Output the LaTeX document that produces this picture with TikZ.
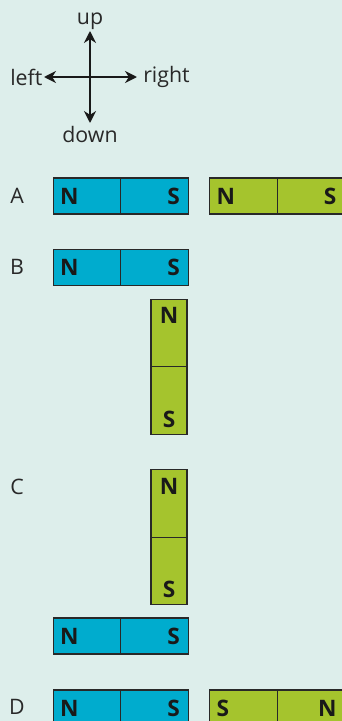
\documentclass[tikz,border=0pt]{standalone}
\usepackage{fontspec}
\setmainfont{Open Sans}
\usetikzlibrary{arrows.meta,positioning}
\definecolor{bg}{RGB}{221,238,235}
\definecolor{mblue}{RGB}{0,172,206}
\definecolor{mgreen}{RGB}{165,196,45}
\definecolor{ink}{RGB}{40,40,40}
\tikzset{
    hhalf/.style={rectangle, draw=ink, line width=0.9pt, minimum width=50.6pt, minimum height=27pt, inner sep=0pt, outer sep=0pt},
    vhalf/.style={rectangle, draw=ink, line width=0.9pt, minimum width=27pt, minimum height=50.6pt, inner sep=0pt, outer sep=0pt},
    pole/.style={font=\fontsize{17}{19}\selectfont\bfseries, text=black!90, inner sep=0pt},
    row/.style={font=\fontsize{16}{18}\selectfont, text=ink, inner sep=0pt},
    dir/.style={font=\fontsize{16}{18}\selectfont, text=ink, inner sep=0pt},
    arm/.style={-{Stealth[length=9pt,width=9pt]}, line width=1.4pt, draw=black!90}
}

\begin{document}
\begin{tikzpicture}[x=0.75pt, y=-0.75pt]
    \useasboundingbox (0,0) rectangle (342,721);
    \clip (0,0) rectangle (342,721);
    \fill[bg] (0,0) rectangle (342,721);

    % Compass
    \coordinate (ctr) at (90,77);
    \coordinate (tipU) at (90,31);
    \coordinate (tipD) at (90,123);
    \coordinate (tipL) at (44,77);
    \coordinate (tipR) at (137,77);
    \node[dir, above=1pt of tipU] (up) {up};
    \node[dir, below=2pt of tipD] (down) {down};
    \node[dir, left=1pt of tipL] (left) {left};
    \node[dir, right=4.5pt of tipR] (right) {right};
    \draw[arm] (ctr) -- (tipU);
    \draw[arm] (ctr) -- (tipD);
    \draw[arm] (ctr) -- (tipL);
    \draw[arm] (ctr) -- (tipR);

    % Row labels
    \node[row] (labA) at (17,196) {A};
    \node[row] (labB) at (17,267) {B};
    \node[row] (labC) at (17,487) {C};
    \node[row] (labD) at (17,707) {D};

    % A
    \node[hhalf, fill=mblue] (A1L) at (87,196) {};
    \node[hhalf, fill=mblue, right=0pt of A1L] (A1R) {};
    \node[pole, right=5pt of A1L.west] {N};
    \node[pole, left=6pt of A1R.east] {S};
    \node[hhalf, fill=mgreen] (A2L) at (243.5,196) {};
    \node[hhalf, fill=mgreen, right=0pt of A2L] (A2R) {};
    \node[pole, right=5pt of A2L.west] {N};
    \node[pole, left=6pt of A2R.east] {S};

    % B
    \node[hhalf, fill=mblue] (B1L) at (87,267.5) {};
    \node[hhalf, fill=mblue, right=0pt of B1L] (B1R) {};
    \node[pole, right=5pt of B1L.west] {N};
    \node[pole, left=6pt of B1R.east] {S};
    \node[vhalf, fill=mgreen] (B2T) at (169,333) {};
    \node[vhalf, fill=mgreen, below=0pt of B2T] (B2B) {};
    \node[pole, below=6pt of B2T.north] {N};
    \node[pole, above=5pt of B2B.south] {S};

    % C
    \node[vhalf, fill=mgreen] (C2T) at (169,503.5) {};
    \node[vhalf, fill=mgreen, below=0pt of C2T] (C2B) {};
    \node[pole, below=6pt of C2T.north] {N};
    \node[pole, above=5pt of C2B.south] {S};
    \node[hhalf, fill=mblue] (C1L) at (87,636) {};
    \node[hhalf, fill=mblue, right=0pt of C1L] (C1R) {};
    \node[pole, right=5pt of C1L.west] {N};
    \node[pole, left=6pt of C1R.east] {S};

    % D
    \node[hhalf, fill=mblue] (D1L) at (87,708) {};
    \node[hhalf, fill=mblue, right=0pt of D1L] (D1R) {};
    \node[pole, right=5pt of D1L.west] {N};
    \node[pole, left=6pt of D1R.east] {S};
    \node[hhalf, fill=mgreen] (D2L) at (243.5,708) {};
    \node[hhalf, fill=mgreen, right=0pt of D2L] (D2R) {};
    \node[pole, right=5pt of D2L.west] {S};
    \node[pole, left=6pt of D2R.east] {N};
\end{tikzpicture}
\end{document}
